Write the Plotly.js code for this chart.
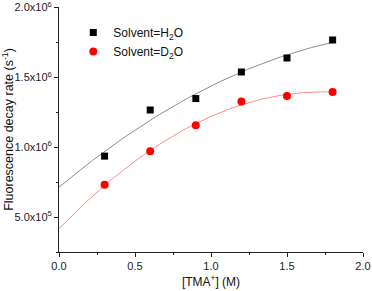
<!DOCTYPE html>
<html><head><meta charset="utf-8">
<script src="https://cdn.plot.ly/plotly-3.0.1.min.js"></script>
<style>html,body{margin:0;padding:0;background:#fff}#c{width:372px;height:291px}</style>
</head><body><div id="c"></div>
<script>
var tma = [0.3, 0.6, 0.9, 1.2, 1.5, 1.8];
var rateH2O = [0.936e6, 1.266e6, 1.348e6, 1.538e6, 1.638e6, 1.767e6];
var rateD2O = [0.731e6, 0.971e6, 1.157e6, 1.326e6, 1.367e6, 1.395e6];
var yTickVals = [5e5, 1e6, 1.5e6, 2e6];
var yTickText = ['5.0x10<sup>5</sup>', '1.0x10<sup>6</sup>', '1.5x10<sup>6</sup>', '2.0x10<sup>6</sup>'];
var xTickVals = [0, 0.5, 1.0, 1.5, 2.0];
var xTickText = ['0.0', '0.5', '1.0', '1.5', '2.0'];

// quadratic least-squares fit of each data series
function quadFit(x, y) {
  var S = [[0,0,0],[0,0,0],[0,0,0]], b = [0,0,0];
  for (var i = 0; i < x.length; i++) {
    var p = [1, x[i], x[i]*x[i]];
    for (var r = 0; r < 3; r++) { b[r] += p[r]*y[i]; for (var c = 0; c < 3; c++) S[r][c] += p[r]*p[c]; }
  }
  for (var k = 0; k < 3; k++) {
    for (var r2 = k+1; r2 < 3; r2++) {
      var f = S[r2][k]/S[k][k];
      for (var c2 = k; c2 < 3; c2++) S[r2][c2] -= f*S[k][c2];
      b[r2] -= f*b[k];
    }
  }
  var a = [0,0,0];
  for (var k2 = 2; k2 >= 0; k2--) {
    var s = b[k2];
    for (var c3 = k2+1; c3 < 3; c3++) s -= S[k2][c3]*a[c3];
    a[k2] = s/S[k2][k2];
  }
  return a;
}
function fitCurve(x, y) {
  var a = quadFit(x, y), xs = [], ys = [];
  var xmax = x[x.length-1];
  for (var i = 0; i <= 90; i++) { var t = xmax*i/90; xs.push(t); ys.push(a[0]+a[1]*t+a[2]*t*t); }
  return {x: xs, y: ys};
}
var fH = fitCurve(tma, rateH2O), fD = fitCurve(tma, rateD2O);

var traces = [
  {x: fH.x, y: fH.y, mode: 'lines', line: {color: '#8c8c8c', width: 1}, showlegend: false, hoverinfo: 'skip'},
  {x: fD.x, y: fD.y, mode: 'lines', line: {color: '#ff8a8a', width: 1}, showlegend: false, hoverinfo: 'skip'},
  {x: tma, y: rateH2O, mode: 'markers', name: 'Solvent=H<sub>2</sub>O', marker: {symbol: 'square', size: 7, color: '#000'}},
  {x: tma, y: rateD2O, mode: 'markers', name: 'Solvent=D<sub>2</sub>O', marker: {symbol: 'circle', size: 8, color: '#ff0000'}}
];
var ff = 'Liberation Sans, Arial, sans-serif';
var layout = {
  width: 372, height: 291,
  margin: {l: 59, r: 9, t: 7, b: 39},
  paper_bgcolor: '#fff', plot_bgcolor: '#fff',
  font: {family: ff, size: 11, color: '#222'},
  showlegend: true,
  legend: {x: 0.047, y: 0.955, xanchor: 'left', yanchor: 'top', bgcolor: 'rgba(0,0,0,0)',
           font: {family: ff, size: 12, color: '#111'}, tracegroupgap: 0},
  xaxis: {range: [0, 2.0], tickvals: xTickVals, ticktext: xTickText, ticks: 'outside', ticklen: 4, tickwidth: 1,
          tickcolor: '#222', showline: true, linecolor: '#222', linewidth: 1, showgrid: false, zeroline: false,
          minor: {dtick: 0.25, ticks: 'outside', ticklen: 2, tickcolor: '#222', showgrid: false},
          title: {text: '[TMA<sup>+</sup>] (M)', font: {family: ff, size: 12, color: '#111'}, standoff: 6}},
  yaxis: {range: [2.5e5, 2.003e6], tickvals: yTickVals, ticktext: yTickText, ticks: 'outside', ticklen: 4, tickwidth: 1,
          tickcolor: '#222', showline: true, linecolor: '#222', linewidth: 1, showgrid: false, zeroline: false,
          ticklabeloverflow: 'allow',
          minor: {dtick: 2.5e5, ticks: 'outside', ticklen: 2, tickcolor: '#222', showgrid: false},
          title: {text: 'Fluorescence decay rate (s<sup>-1</sup>)', font: {family: ff, size: 12.5, color: '#111'}, standoff: 2}}
};
Plotly.newPlot('c', traces, layout, {displayModeBar: false, staticPlot: true});
</script></body></html>
